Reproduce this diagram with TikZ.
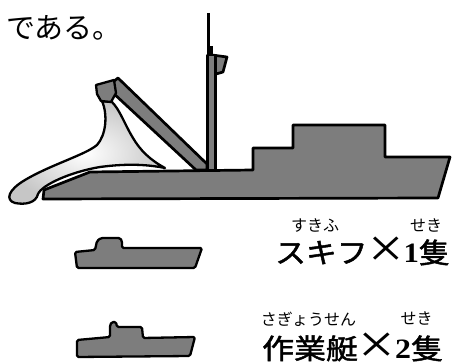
\documentclass[tikz,border=0pt]{standalone}
\usepackage{fontspec}
\setmainfont{Liberation Serif}
\newfontfamily\jp{Noto Sans CJK JP}
\newfontfamily\jpheavy[FakeBold=1.6]{Noto Sans CJK JP}
\definecolor{hullgray}{RGB}{125,125,125}
% large serif multiplication sign and serif numeral
\newcommand\bigtimes{\hspace{0.5pt}\raisebox{-5pt}{\rmfamily\fontsize{57pt}{57pt}\selectfont ×}}
\newcommand\serifdigit[1]{{\rmfamily\bfseries\fontsize{28pt}{28pt}\selectfont #1}}
\begin{document}
\begin{tikzpicture}[x=1pt,y=-1pt,
  outline/.style={draw=black,line width=2.7pt,line join=round},
  ship/.style={outline,fill=hullgray},
  boat/.style={draw=black,fill=hullgray,line width=2.3pt,line join=round,rounded corners=1.5pt},
  jtext/.style={inner sep=0pt,font=\jp},
  ruby/.style={jtext,font=\jp\fontsize{16pt}{16pt}\selectfont},
  count/.style={jtext,anchor=base west},
]
\useasboundingbox (0,0) rectangle (453,363);

% heading text
\node[jtext,anchor=base west] (dearu) at (6,39) {\fontsize{29pt}{29pt}\selectfont である。};

% ---- main vessel ----
% hull with superstructure
\draw[ship] (43,199) -- (44,190) -- (90,172) -- (253,170) -- (253,148) -- (293,148)
  -- (293,125) -- (385,125) -- (385,157) -- (450,157) -- (438,198) -- cycle;
% stern boom
\draw[ship] (113,82) -- (118,78) -- (207,164) -- (207,170) -- (196,170) -- (112,92) -- cycle;
% mast
\draw[black,line width=2.5pt] (208.5,13) -- (208.5,55);
\fill[black] (207.5,46) rectangle (213,56);
\draw[ship] (212,55) -- (227,57) -- (223,72) -- (216,74) -- cycle;
\draw[ship] (207.5,55) rectangle (215.5,170);
% trawl net hanging from the boom
\draw[outline,line width=2.3pt,inner color=white,outer color=gray!45]
  (102,101) .. controls (108,115) and (106,135) .. (97,145)
  .. controls (85,155) and (50,165) .. (25,180)
  .. controls (8,190) and (5,200) .. (15,203)
  .. controls (25,205) and (36,203) .. (38,194)
  .. controls (42,185) and (70,172) .. (100,167)
  .. controls (130,163) and (150,165) .. (165,168)
  .. controls (150,160) and (140,150) .. (133,138)
  .. controls (125,125) and (120,110) .. (112,102) -- cycle;
% block at the boom head
\draw[ship,line width=2.3pt] (96,85) -- (114,80) -- (116,93) -- (111,102) -- (101,101) -- (97,94) -- cycle;

% ---- skiff ----
\draw[boat] (77,268) -- (75,252) -- (95,250) -- (97,241) -- (101,238) -- (120,238)
  -- (122,241) -- (122,248) -- (202,248) -- (195,268) -- cycle;
% ---- work boat ----
\draw[boat] (77,357) -- (77,340) -- (110,337) -- (110,325) -- (112,322) -- (116,322)
  -- (117,327) -- (142,327) -- (143,338) -- (195,337) -- (190,356) -- cycle;

% labels
\node[ruby] (rskiff) at (315,226) {すきふ};
\node[ruby] (rseki1) at (426,226) {せき};
\node[count] (skiff) at (275,263)
  {\scalebox{1.1}[1]{\jpheavy\fontsize{28pt}{28pt}\selectfont スキフ\bigtimes\serifdigit{1}隻}};

\node[ruby] (rwork) at (308.5,319) {さぎょうせん};
\node[ruby] (rseki2) at (416.5,319) {せき};
\node[count] (work) at (262,359)
  {\scalebox{1.14}[1]{\jpheavy\fontsize{28pt}{28pt}\selectfont 作業艇\bigtimes\serifdigit{2}隻}};
\end{tikzpicture}
\end{document}
